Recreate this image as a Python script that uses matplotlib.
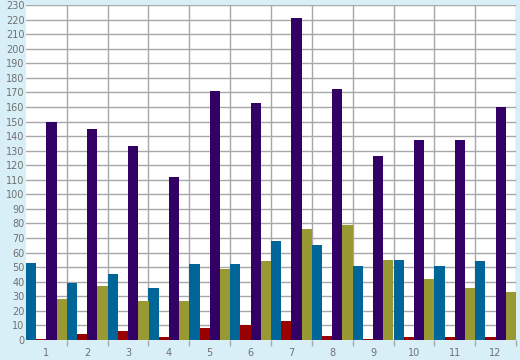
import matplotlib
matplotlib.use('Agg')
from matplotlib import pyplot as plt
import numpy as np

# 数据
categories = ['1', '2', '3', '4', '5', '6', '7', '8', '9', '10', '11', '12']
blue_vals = [53, 39, 45, 36, 52, 52, 68, 65, 51, 55, 51, 54]
red_vals = [1, 4, 6, 2, 8, 10, 13, 3, 1, 2, 2, 2]
purple_vals = [150, 145, 133, 112, 171, 163, 221, 172, 126, 137, 137, 160]
olive_vals = [28, 37, 27, 27, 49, 54, 76, 79, 55, 42, 36, 33]

series = [blue_vals, red_vals, purple_vals, olive_vals]
colors = ["#006699", "#990000", "#330066", "#999933"]

bg = "#D9EFF7"
grid_c = "#A8A8A8"
text_c = "#707070"

fig = plt.figure(figsize=(5.2, 3.6), dpi=100, facecolor=bg)
ax = fig.add_axes([26 / 520, 20 / 360, 490 / 520, 335 / 360])
ax.set_facecolor("white")

x = np.arange(len(categories))
width = 0.25
for i, (vals, c) in enumerate(zip(series, colors)):
    ax.bar(x - 0.5 + width * (i + 0.5), vals, width=width, color=c, zorder=3, linewidth=0)

ax.set_xlim(-0.5, len(categories) - 0.5)
ax.set_ylim(0, 230)

# 网格线
for yv in range(10, 231, 10):
    ax.axhline(yv, color=grid_c, linewidth=1, zorder=1)
for xv in np.arange(0.5, len(categories), 1.0):
    ax.axvline(xv, color=grid_c, linewidth=1, zorder=1)

ax.set_yticks(range(0, 231, 10))
ax.set_xticks(x)
ax.set_xticklabels(categories)
ax.tick_params(axis='y', length=0, pad=1, labelsize=7, labelcolor=text_c)
ax.tick_params(axis='x', length=0, pad=6, labelsize=7, labelcolor=text_c)

# 类别边界刻度
ax.set_xticks(np.arange(0.5, len(categories), 1.0), minor=True)
ax.tick_params(axis='x', which='minor', length=4, color=grid_c, width=1)

for s in ax.spines.values():
    s.set_visible(False)

plt.savefig("out.png", dpi=100, facecolor=bg)
